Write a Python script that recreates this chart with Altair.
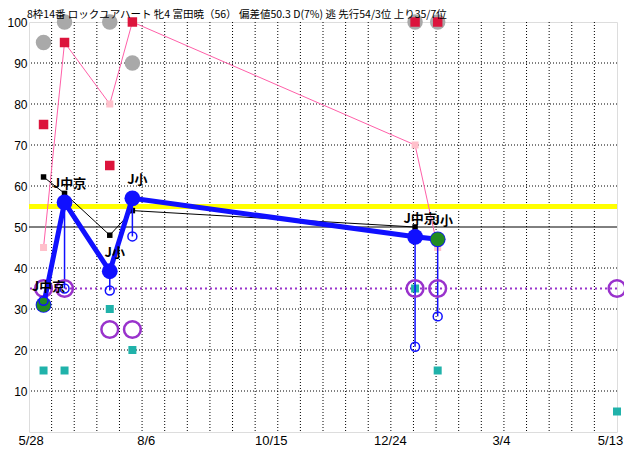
import altair as alt
import pandas as pd

TITLE = "8枠14番 ロックユアハート 牝4 富田暁（56） 偏差値50.3 D(7%) 逃 先行54/3位 上り35/7位"
AXIS_START = "2021-05-14"
AXIS_END = "2022-05-13"
race_dates = ["2021-05-23", "2021-06-05", "2021-07-03", "2021-07-17", "2022-01-08", "2022-01-22"]
next_race = "2022-05-13"
venues = ["J中京", "J中京", "J小", "J小", "J中京", "J小"]
rating = [31, 56, 39.2, 57, 47.6, 47]          # thick blue line
rating_low = [32, 35, 34.5, 47.7, 20.8, 28.2]  # small open blue circles
black_vals = [62.2, 58.2, 48, 54, 50]          # thin black line (races 1-5)
pink_vals = [45, 95, 80, 100, 70, 45]          # thin pink line
red_vals = [75, 95, 65, 100, 100, 100]         # red squares
gray_vals = [95, 100, 100, 90, 100, 100]       # gray circles
green_idx = [0, 5]
green_vals = [31, 47]
purple_vals = [35, 35, 25, 25, 35, 35, 35]     # open purple circles (incl. next race)
cyan_vals = [15, 15, 30, 20, 35, 15, 5]        # teal squares (incl. next race)
tick_dates = ["2021-05-28", "2021-08-06", "2021-10-15", "2021-12-24", "2022-03-04", "2022-05-13"]
tick_labels = ["5/28", "8/6", "10/15", "12/24", "3/4", "5/13"]
tick_shift = [-21, -19, -7, -1, -3, -7]
y_ticks = [10, 20, 30, 40, 50, 60, 70, 80, 90, 100]
grid_step_days = 14
avg_line = 55
base_line = 35
mid_line = 50

start = pd.Timestamp(AXIS_START)


def day(s):
    return (pd.Timestamp(s) - start).days


race_d = [day(s) for s in race_dates]
next_d = day(next_race)
end_d = day(AXIS_END)
tick_d = [day(s) for s in tick_dates]

races = pd.DataFrame({"d": race_d, "blue": rating, "low": rating_low,
                      "pink": pink_vals, "red": red_vals, "gray": gray_vals,
                      "venue": venues})
black = pd.DataFrame({"d": race_d[:len(black_vals)], "v": black_vals})
green = pd.DataFrame({"d": [race_d[i] for i in green_idx], "v": green_vals})
purple = pd.DataFrame({"d": race_d + [next_d], "v": purple_vals})
cyan = pd.DataFrame({"d": race_d + [next_d], "v": cyan_vals})
vgrid = pd.DataFrame({"d": list(range(grid_step_days, end_d, grid_step_days))})
hgrid = pd.DataFrame({"v": [v for v in y_ticks if v not in (mid_line, 100)]})
title_df = pd.DataFrame({"t": [TITLE]})

label_map = "{" + ",".join(f"'{d}':'{l}'" for d, l in zip(tick_d, tick_labels)) + "}"
offset_cond = {"condition": [{"test": f"datum.value == {d}", "value": s}
                             for d, s in zip(tick_d, tick_shift)], "value": 0}

xaxis = alt.Axis(values=tick_d, labelExpr=f"{label_map}[''+datum.value]",
                 title=None, grid=False, ticks=False, domain=False,
                 labelFont="Liberation Sans", labelFontSize=13, labelColor="black",
                 labelPadding=2, labelOffset=offset_cond, labelFlush=False,
                 labelOverlap=False)
yaxis = alt.Axis(values=y_ticks, title=None, grid=False, ticks=False, domain=False,
                 labelFont="Liberation Sans", labelFontSize=12, labelColor="black",
                 labelPadding=2)
xs = alt.Scale(domain=[0, end_d], nice=False, zero=False)
ys = alt.Scale(domain=[0, 100], nice=False, zero=False)


def X(field="d"):
    return alt.X(f"{field}:Q", scale=xs, axis=xaxis)


def Y(field):
    return alt.Y(f"{field}:Q", scale=ys, axis=yaxis)


BLUE = "#1010ff"
PURPLE = "#9932cc"

layers = []
layers.append(alt.Chart(vgrid).mark_rule(color="black", strokeWidth=1, strokeDash=[1, 2]).encode(x=X()))
layers.append(alt.Chart(hgrid).mark_rule(color="black", strokeWidth=1, strokeDash=[1, 2]).encode(y=Y("v")))
layers.append(alt.Chart(pd.DataFrame({"v": [mid_line]})).mark_rule(color="black", strokeWidth=1).encode(y=Y("v")))
layers.append(alt.Chart(pd.DataFrame({"v": [avg_line]})).mark_rule(color="#ffff00", strokeWidth=5).encode(y=Y("v")))
layers.append(alt.Chart(pd.DataFrame({"v": [base_line]})).mark_rule(color=PURPLE, strokeWidth=2, strokeDash=[2, 3]).encode(y=Y("v")))
layers.append(alt.Chart(races).mark_line(color="#ff5fa8", strokeWidth=1).encode(x=X(), y=Y("pink")))
layers.append(alt.Chart(races).mark_point(shape="square", filled=True, opacity=1, color="#ffc0cb", size=49).encode(x=X(), y=Y("pink")))
layers.append(alt.Chart(black).mark_line(color="black", strokeWidth=1).encode(x=X(), y=Y("v")))
layers.append(alt.Chart(black).mark_point(shape="square", filled=True, opacity=1, color="black", size=30).encode(x=X(), y=Y("v")))
layers.append(alt.Chart(cyan).mark_point(shape="square", filled=True, opacity=1, color="#20b2aa", size=64).encode(x=X(), y=Y("v")))
layers.append(alt.Chart(races).mark_circle(color="#a9a9a9", opacity=1, size=240).encode(x=X(), y=Y("gray")))
layers.append(alt.Chart(races).mark_point(shape="square", filled=True, opacity=1, color="#dc143c", size=90).encode(x=X(), y=Y("red")))
layers.append(alt.Chart(races).mark_rule(color=BLUE, strokeWidth=1.5).encode(x=X(), y=Y("blue"), y2="low:Q"))
layers.append(alt.Chart(purple).mark_point(shape="circle", filled=False, opacity=1, color=PURPLE, strokeWidth=2.5, size=280).encode(x=X(), y=Y("v")))
layers.append(alt.Chart(races).mark_line(color=BLUE, strokeWidth=5).encode(x=X(), y=Y("blue")))
layers.append(alt.Chart(races).mark_circle(color=BLUE, opacity=1, size=250).encode(x=X(), y=Y("blue")))
layers.append(alt.Chart(green).mark_circle(color="#228b22", opacity=1, size=200).encode(x=X(), y=Y("v")))
layers.append(alt.Chart(races).mark_point(shape="circle", filled=False, opacity=1, color=BLUE, strokeWidth=1.5, size=80).encode(x=X(), y=Y("low")))
layers.append(alt.Chart(races).mark_text(font="Noto Sans CJK JP", fontSize=13, fontWeight="bold",
                                         color="black", dx=5, dy=-18, baseline="middle").encode(
    x=X(), y=Y("blue"), text="venue:N"))
layers.append(alt.Chart(title_df).mark_text(font="Noto Sans CJK JP", fontSize=10.5, color="black",
                                            align="left", baseline="top").encode(
    x=alt.value(-2), y=alt.value(-12), text="t:N"))

chart = alt.layer(*layers).properties(
    width=588, height=410,
    padding={"left": 21, "top": 14, "right": 7, "bottom": 14},
    autosize=alt.AutoSizeParams(type="none"),
).configure_view(stroke="black", strokeWidth=3).configure(background="white")

chart.save("out.html", embed_options={"renderer": "svg", "actions": False})
